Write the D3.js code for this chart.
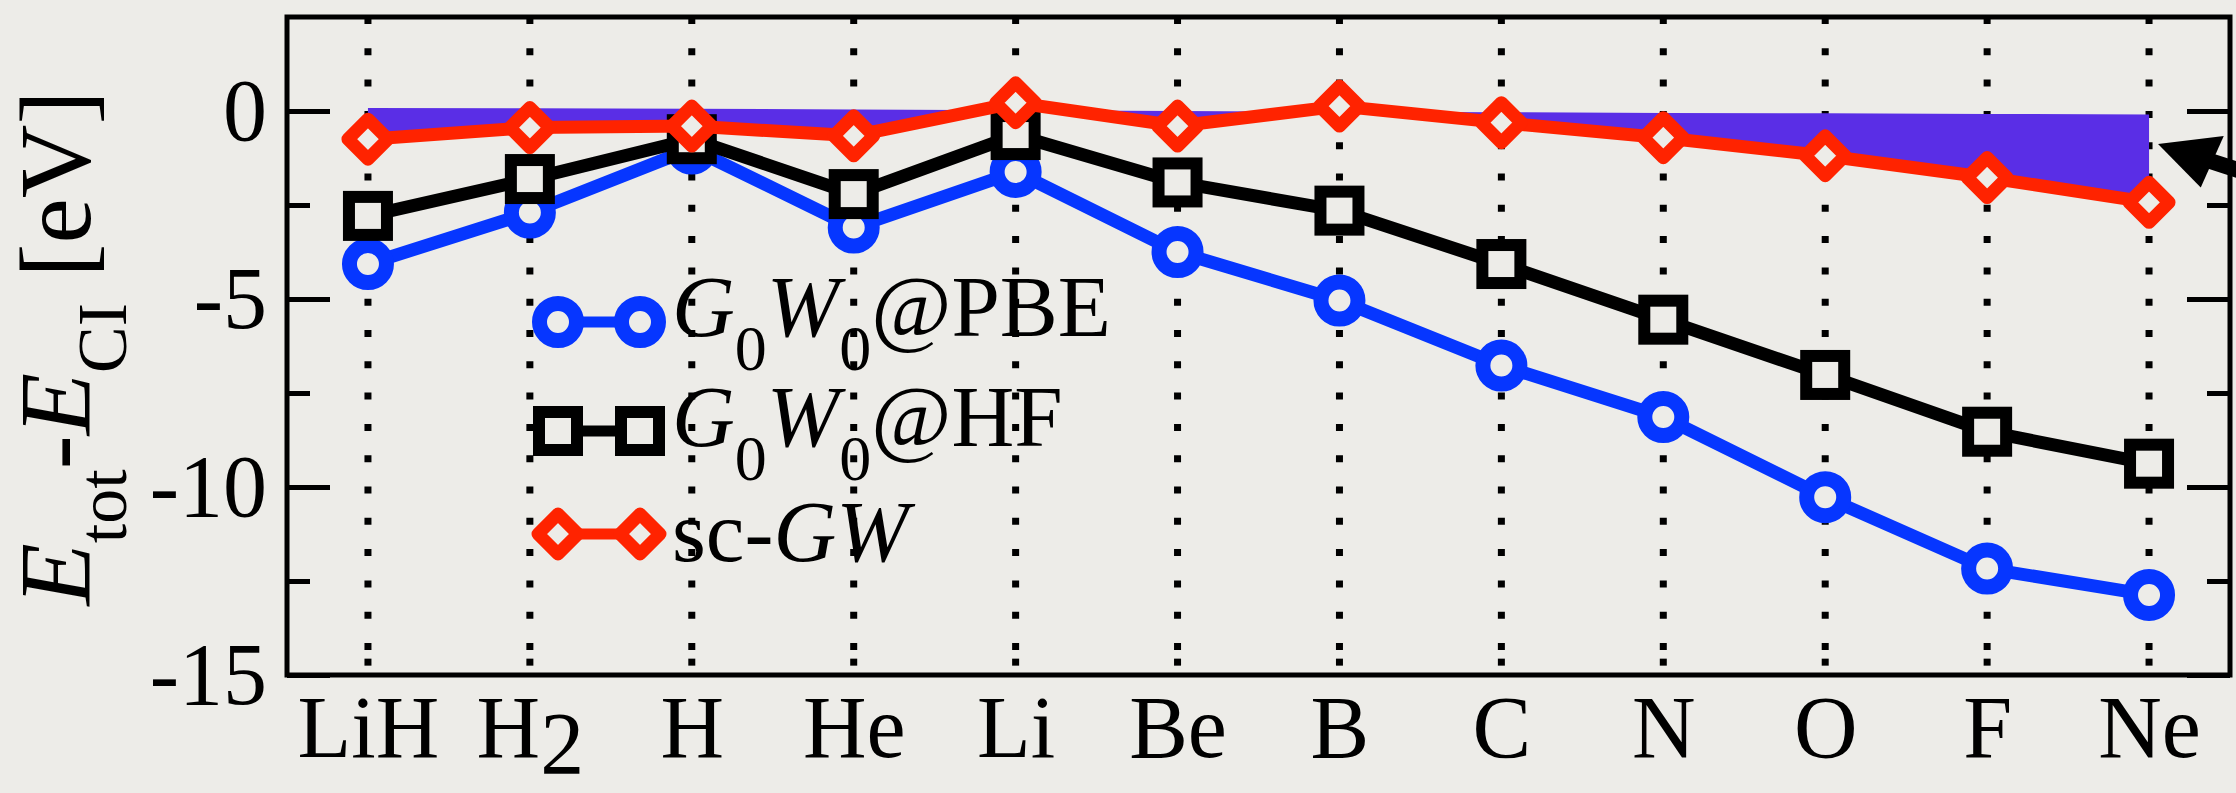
<!DOCTYPE html>
<html>
<head>
<meta charset="utf-8">
<script src="https://cdn.jsdelivr.net/npm/d3@7"></script>
<style>
  html, body { margin: 0; padding: 0; background: #edece8; }
  svg { display: block; font-family: "Liberation Serif", "Times New Roman", serif; }
</style>
</head>
<body>
<div id="chart"></div>
<script>
// data (eV)
const systems = ["LiH", "H2", "H", "He", "Li", "Be", "B", "C", "N", "O", "F", "Ne"];
const g0w0PBE = [-4.07, -2.70, -1.00, -3.10, -1.62, -3.75, -5.04, -6.77, -8.14, -10.27, -12.17, -12.87];
const g0w0HF = [-2.79, -1.81, -0.75, -2.21, -0.64, -1.90, -2.65, -4.07, -5.55, -7.02, -8.53, -9.38];
const scGW = [-0.75, -0.44, -0.40, -0.66, 0.22, -0.40, 0.13, -0.31, -0.71, -1.19, -1.77, -2.43];
const shadeTop = [0.08, 0.07, 0.06, 0.04, 0.02, 0.0, -0.02, -0.03, -0.05, -0.06, -0.08, -0.09];
const yTicks = [0, -5, -10, -15];
const yMinorTicks = [-2.5, -7.5, -12.5];

const W = 2236, H = 793;
const margin = { top: 17, right: 6, bottom: 118, left: 287 };
const width = W - margin.left - margin.right;
const height = H - margin.top - margin.bottom;

const blue = "#0636ff", red = "#ff2300", shade = "#5a2ee6", bg = "#edece8";
const serif = "Liberation Serif, Times New Roman, serif";

const x = d3.scalePoint().domain(systems).range([0, width]).padding(0.5);
const y = d3.scaleLinear().domain([-15, 2.5]).range([height, 0]);

const svg = d3.select("#chart").append("svg")
  .attr("width", W).attr("height", H)
  .attr("viewBox", [0, 0, W, H]);

svg.append("rect").attr("width", W).attr("height", H).attr("fill", bg);

const g = svg.append("g").attr("transform", `translate(${margin.left},${margin.top})`);

// dotted vertical grid at each system
const period = 31.3;
g.selectAll(".grid").data(systems).join("line")
  .attr("class", "grid")
  .attr("x1", d => x(d)).attr("x2", d => x(d))
  .attr("y1", 0).attr("y2", height)
  .attr("stroke", "#000").attr("stroke-width", 7)
  .attr("stroke-dasharray", `7 ${period - 7}`);

// bottom x ticks (dotted, offset by half a period)
g.selectAll(".xtick").data(systems).join("line")
  .attr("class", "xtick")
  .attr("x1", d => x(d)).attr("x2", d => x(d))
  .attr("y1", Math.floor(height / period) * period - period / 2)
  .attr("y2", height)
  .attr("stroke", "#000").attr("stroke-width", 7)
  .attr("stroke-dasharray", `7 ${period - 7}`);

// shaded region between sc-GW and the upper reference
const area = d3.area()
  .x((d, i) => x(systems[i]))
  .y0((d, i) => y(shadeTop[i]))
  .y1(d => y(d));
g.append("path").datum(scGW)
  .attr("d", area)
  .attr("fill", shade);

// y axes
const yAxisL = g.append("g")
  .call(d3.axisLeft(y).tickValues(yTicks).tickSize(-43).tickPadding(20).tickFormat(d => String(d)));
yAxisL.select(".domain").remove();
yAxisL.selectAll(".tick line").attr("stroke-width", 5);
yAxisL.selectAll("text").attr("font-size", 88).attr("fill", "#000").attr("font-family", serif);

const yMinorL = g.append("g")
  .call(d3.axisLeft(y).tickValues(yMinorTicks).tickSize(-23).tickFormat(""));
yMinorL.select(".domain").remove();
yMinorL.selectAll(".tick line").attr("stroke-width", 5);

const yAxisR = g.append("g").attr("transform", `translate(${width},0)`)
  .call(d3.axisRight(y).tickValues(yTicks).tickSize(-43).tickFormat(""));
yAxisR.select(".domain").remove();
yAxisR.selectAll(".tick line").attr("stroke-width", 5);

const yMinorR = g.append("g").attr("transform", `translate(${width},0)`)
  .call(d3.axisRight(y).tickValues(yMinorTicks).tickSize(-23).tickFormat(""));
yMinorR.select(".domain").remove();
yMinorR.selectAll(".tick line").attr("stroke-width", 5);

// x axis labels
const xAxis = g.append("g").attr("transform", `translate(0,${height})`)
  .call(d3.axisBottom(x).tickSize(0).tickPadding(20));
xAxis.select(".domain").remove();
xAxis.selectAll("text")
  .attr("font-size", 88).attr("fill", "#000").attr("font-family", serif)
  .each(function (d) {
    const m = d.match(/^([A-Za-z]+?)(\d+)$/);
    if (m) {
      const t = d3.select(this).text(null);
      t.append("tspan").text(m[1]);
      t.append("tspan").attr("dy", 16).text(m[2]);
    }
  });

// frame
g.append("rect")
  .attr("width", width).attr("height", height)
  .attr("fill", "none").attr("stroke", "#000").attr("stroke-width", 5);

// series
const line = d3.line().x((d, i) => x(systems[i])).y(d => y(d));

const symbols = {
  circle: (sel, color) => sel.append("circle").attr("r", 18.5)
    .attr("fill", bg).attr("stroke", color).attr("stroke-width", 15),
  square: (sel, color) => sel.append("rect").attr("x", -19).attr("y", -19)
    .attr("width", 38).attr("height", 38)
    .attr("fill", bg).attr("stroke", color).attr("stroke-width", 12),
  diamond: (sel, color) => sel.append("path").attr("d", "M0,-20L20,0L0,20L-20,0Z")
    .attr("fill", bg).attr("stroke", color).attr("stroke-width", 13)
    .attr("stroke-linejoin", "round")
};

const series = [
  { values: g0w0PBE, color: blue, symbol: "circle" },
  { values: g0w0HF, color: "#000", symbol: "square" },
  { values: scGW, color: red, symbol: "diamond" }
];

series.forEach(s => {
  g.append("path").datum(s.values)
    .attr("d", line)
    .attr("fill", "none")
    .attr("stroke", s.color)
    .attr("stroke-width", 13)
    .attr("stroke-linejoin", "round");

  g.selectAll(null).data(s.values).join("g")
    .attr("transform", (d, i) => `translate(${x(systems[i])},${y(d)})`)
    .each(function () { symbols[s.symbol](d3.select(this), s.color); });
});

// legend
const legendRows = [
  { color: blue, symbol: "circle", parts: [["G", "i"], ["0", "s"], ["W", "i"], ["0", "s"], ["@PBE", "n"]], cy: 322, base: 336 },
  { color: "#000", symbol: "square", parts: [["G", "i"], ["0", "s"], ["W", "i"], ["0", "s"], ["@HF", "n"]], cy: 431, base: 446 },
  { color: red, symbol: "diamond", parts: [["sc-", "n"], ["GW", "i"]], cy: 534, base: 561 }
];

const legend = svg.append("g");
legendRows.forEach(r => {
  const row = legend.append("g");
  row.append("line")
    .attr("x1", 558).attr("x2", 640).attr("y1", r.cy).attr("y2", r.cy)
    .attr("stroke", r.color).attr("stroke-width", 11);
  [558, 640].forEach(cx => {
    const m = row.append("g").attr("transform", `translate(${cx},${r.cy})`);
    symbols[r.symbol](m, r.color);
  });
  const t = row.append("text").attr("x", 672).attr("y", r.base)
    .attr("font-size", 87).attr("fill", "#000");
  let shifted = false;
  r.parts.forEach(([txt, kind]) => {
    const ts = t.append("tspan").text(txt);
    if (kind === "i") ts.attr("font-style", "italic");
    if (kind === "s") {
      ts.attr("font-size", 64).attr("dy", 34);
      shifted = true;
    } else if (shifted) {
      ts.attr("dy", -34);
      shifted = false;
    }
  });
});

// y axis title
const yTitle = svg.append("text")
  .attr("transform", `translate(90,${margin.top + height / 2 + 2}) rotate(-90)`)
  .attr("text-anchor", "middle")
  .attr("font-size", 102).attr("fill", "#000");
yTitle.append("tspan").attr("font-style", "italic").text("E");
yTitle.append("tspan").attr("font-size", 70).attr("dy", 36).text("tot");
yTitle.append("tspan").attr("dy", -36).text("-");
yTitle.append("tspan").attr("font-style", "italic").text("E");
yTitle.append("tspan").attr("font-size", 70).attr("dy", 36).text("CI");
yTitle.append("tspan").attr("dy", -36).text(" [eV]");

// arrow pointing at the shaded region
const tip = [x("Ne") + margin.left + 9, y(-0.88) + margin.top];
svg.append("g")
  .attr("transform", `translate(${tip[0]},${tip[1]}) rotate(18)`)
  .call(a => {
    a.append("path").attr("d", "M0,0L60,-28L54,28Z").attr("fill", "#000");
    a.append("line").attr("x1", 45).attr("y1", 0).attr("x2", 260).attr("y2", 0)
      .attr("stroke", "#000").attr("stroke-width", 16);
  });
</script>
</body>
</html>
